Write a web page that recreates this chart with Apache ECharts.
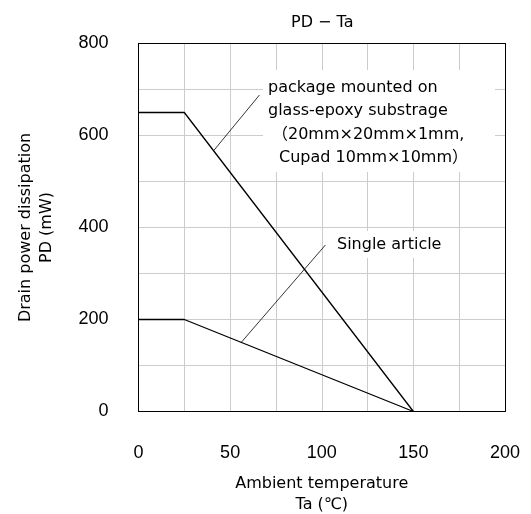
<!DOCTYPE html>
<html>
<head>
<meta charset="utf-8">
<script src="https://cdn.jsdelivr.net/npm/echarts@6/dist/echarts.min.js"></script>
<style>
  html, body { margin: 0; padding: 0; background: #fff; }
  #chart { width: 531px; height: 514px; }
</style>
</head>
<body>
<div id="chart"></div>
<script>
// 温度 (°C) / 功耗 (mW)
var temps = [0, 25, 150]
var pdGlassEpoxy = [650, 650, 0]
var pdSingle = [200, 200, 0]

// 引出线 [起点, 终点]，数据坐标
var leaderGlass = [[41, 567], [66, 688]]
var leaderSingle = [[56, 150], [102, 362]]

var labelGlass = ['package mounted on', 'glass-epoxy substrage', '（20mm×20mm×1mm,', 'Cupad 10mm×10mm）']
var labelSingle = 'Single article'

var txt = '"DejaVu Sans", "Noto Sans CJK JP", sans-serif'
var num = '"Liberation Sans", Arial, sans-serif'
var gridGray = '#cccccc'

function pairs(xs, ys) {
  return xs.map(function (x, i) { return [x, ys[i]] })
}

function leader(seg) {
  return [{ coord: seg[0] }, { coord: seg[1] }]
}

function note(x, y, s) {
  return {
    type: 'text', z: 51, x: x, y: y,
    style: { text: s, fill: '#000', font: '16px ' + txt, verticalAlign: 'middle' },
  }
}

// 只画边框的辅助轴
function frameAxis(pos, max) {
  return {
    type: 'value',
    position: pos,
    min: 0,
    max: max,
    axisLine: { show: true, onZero: false, lineStyle: { color: '#000', width: 1 } },
    axisTick: { show: false },
    axisLabel: { show: false },
    splitLine: { show: false },
  }
}

var myChart = echarts.init(document.getElementById('chart'))

var option = {
  backgroundColor: '#fff',
  animation: false,
  title: {
    text: 'PD − Ta',
    left: 286,
    top: 10,
    textStyle: { color: '#000', fontSize: 16, fontWeight: 'normal', fontFamily: txt },
  },
  grid: {
    left: 138.5,
    right: 26,
    top: 43.5,
    bottom: 102.5,
    outerBoundsMode: 'none',
    containLabel: false,
  },
  xAxis: [
    {
      type: 'value',
      min: 0,
      max: 200,
      interval: 50,
      name: 'Ambient temperature\nTa (℃)',
      nameLocation: 'middle',
      nameGap: 62,
      nameTextStyle: { color: '#000', fontSize: 16, fontFamily: txt, lineHeight: 21, verticalAlign: 'top' },
      axisLine: { show: true, onZero: false, lineStyle: { color: '#000', width: 1 } },
      axisTick: { show: false },
      axisLabel: { color: '#000', fontSize: 18, fontFamily: num, margin: 33 },
      splitLine: { show: true, lineStyle: { color: gridGray, width: 1 } },
      minorTick: { show: false, splitNumber: 2 },
      minorSplitLine: { show: true, lineStyle: { color: gridGray, width: 1 } },
    },
    frameAxis('top', 200),
  ],
  yAxis: [
    {
      type: 'value',
      min: 0,
      max: 800,
      interval: 200,
      name: 'Drain power dissipation\nPD (mW)',
      nameLocation: 'middle',
      nameRotate: 90,
      nameGap: 81,
      nameTextStyle: { color: '#000', fontSize: 16, fontFamily: txt, lineHeight: 21 },
      axisLine: { show: true, onZero: false, lineStyle: { color: '#000', width: 1 } },
      axisTick: { show: false },
      axisLabel: { color: '#000', fontSize: 18, fontFamily: num, margin: 30 },
      splitLine: { show: true, lineStyle: { color: gridGray, width: 1 } },
      minorTick: { show: false, splitNumber: 2 },
      minorSplitLine: { show: true, lineStyle: { color: gridGray, width: 1 } },
    },
    frameAxis('right', 800),
  ],
  graphic: [
    {
      type: 'rect',
      z: 50,
      shape: { x: 263, y: 70, width: 232, height: 102 },
      style: { fill: '#fff' },
    },
    note(268, 88, labelGlass[0]),
    note(268, 111, labelGlass[1]),
    note(272, 135, labelGlass[2]),
    note(279, 158, labelGlass[3]),
    {
      type: 'rect',
      z: 50,
      shape: { x: 330, y: 231, width: 115, height: 27 },
      style: { fill: '#fff' },
    },
    note(337, 245, labelSingle),
  ],
  series: [
    {
      name: 'glass-epoxy',
      type: 'line',
      data: pairs(temps, pdGlassEpoxy),
      symbol: 'none',
      lineStyle: { color: '#000', width: 1.3 },
      markLine: {
        silent: true,
        symbol: 'none',
        label: { show: false },
        lineStyle: { color: '#000', width: 0.8, type: 'solid' },
        data: [leader(leaderGlass)],
      },
    },
    {
      name: 'single',
      type: 'line',
      data: pairs(temps, pdSingle),
      symbol: 'none',
      lineStyle: { color: '#000', width: 1.3 },
      markLine: {
        silent: true,
        symbol: 'none',
        label: { show: false },
        lineStyle: { color: '#000', width: 0.8, type: 'solid' },
        data: [leader(leaderSingle)],
      },
    },
  ],
}

myChart.setOption(option)
</script>
</body>
</html>
